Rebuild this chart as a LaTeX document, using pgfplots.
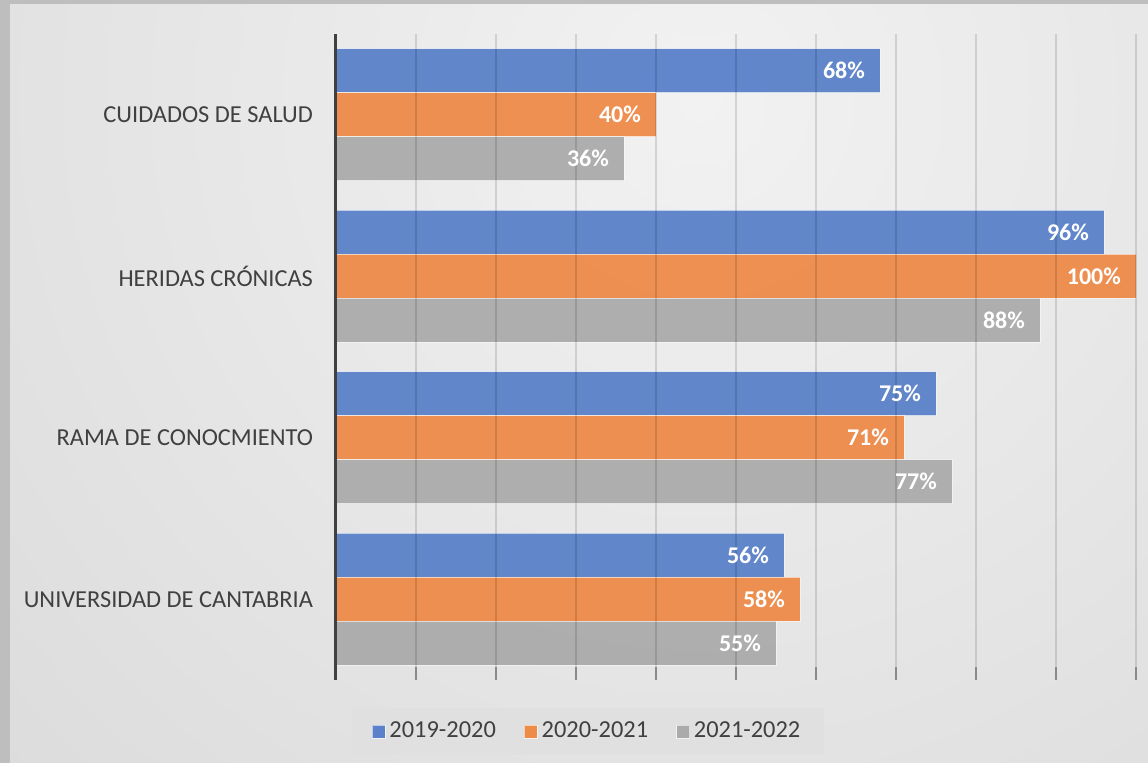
\documentclass[border=0pt]{standalone}
\usepackage{fontspec}
\setmainfont{Carlito}
\usepackage{pgfplots}
\pgfplotsset{compat=1.18}
\definecolor{barblue}{HTML}{5A81C9}
\definecolor{barorange}{HTML}{ED8B49}
\definecolor{bargrey}{HTML}{ABABAB}
\definecolor{txt}{HTML}{404040}
\definecolor{frame}{HTML}{BEBEBE}
\definecolor{bgin}{HTML}{F2F2F2}
\definecolor{bgout}{HTML}{C0C0C0}
\definecolor{tickgrey}{HTML}{8A8A8A}
\definecolor{legbg}{HTML}{E0E0E0}

\begin{document}
\begin{tikzpicture}
  % background: grey frame and soft radial gradient
  \fill[frame] (0,0) rectangle (574pt,381.5pt);
  \begin{scope}
    \clip (5pt,0) rectangle (574pt,379pt);
    \shade[inner color=bgin,outer color=bgout] (350pt,331.5pt) circle (1100pt);
  \end{scope}
  \begin{axis}[
    at={(168pt,41.5pt)},anchor=south west,
    scale only axis,width=400pt,height=323pt,
    xbar,bar width=0.2725,
    xmin=0,xmax=100,ymin=-0.5,ymax=3.5,
    xtick={0,10,...,100},xticklabels={},
    ytick={0,1,2,3},
    yticklabels={UNIVERSIDAD DE CANTABRIA,RAMA DE CONOCMIENTO,HERIDAS CRÓNICAS,CUIDADOS DE SALUD},
    axis x line*=bottom,axis y line*=left,
    x axis line style={draw=none},
    y axis line style={draw=txt,line width=1.5pt},
    tick align=inside,major tick length=6.5pt,
    xtick style={draw=tickgrey,line width=0.7pt},
    ytick style={draw=none},
    xmajorgrids,
    major grid style={draw=black,draw opacity=0.12,line width=0.7pt},
    axis on top,
    ticklabel style={font=\fontsize{12.2pt}{14pt}\selectfont,text=txt},
    yticklabel style={xshift=-8pt},
    /pgf/number format/assume math mode=true,
    point meta=x,
    nodes near coords={\pgfmathprintnumber{\pgfplotspointmeta}\%},
    nodes near coords style={anchor=east,xshift=-4pt,text=white,
      font=\bfseries\fontsize{12pt}{14pt}\selectfont},
    every axis plot/.append style={draw=white,draw opacity=0.6,line width=0.5pt,fill opacity=0.95,text opacity=1},
    legend columns=3,
    legend style={at={(0.315,-0.0797)},anchor=center,fill=legbg,draw=none,
      font=\fontsize{12.2pt}{14pt}\selectfont,text=txt,
      inner xsep=10pt,inner ysep=5pt,
      /tikz/every even column/.append style={column sep=12pt}},
    legend image code/.code={\fill[#1,draw=white,line width=0.4pt,fill opacity=1]
      (0pt,-3.25pt) rectangle (6.5pt,3.25pt);},
  ]
    \addplot[fill=barblue,bar shift=0.2725] coordinates {(56,0) (75,1) (96,2) (68,3)};
    \addlegendentry{2019-2020}
    \addplot[fill=barorange,bar shift=0] coordinates {(58,0) (71,1) (100,2) (40,3)};
    \addlegendentry{2020-2021}
    \addplot[fill=bargrey,bar shift=-0.2725] coordinates {(55,0) (77,1) (88,2) (36,3)};
    \addlegendentry{2021-2022}
  \end{axis}
  \pgfresetboundingbox
  \useasboundingbox (0,0) rectangle (574pt,381.5pt);
\end{tikzpicture}
\end{document}
